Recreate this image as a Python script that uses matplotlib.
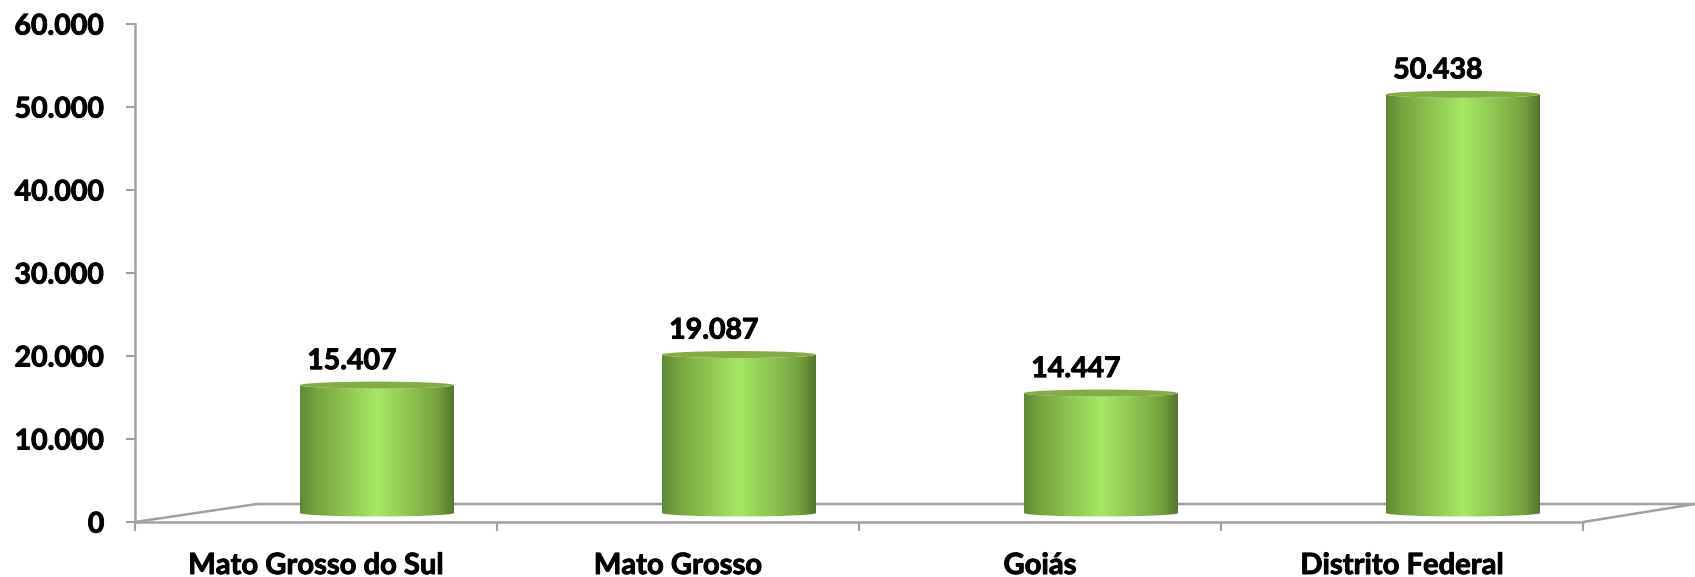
import numpy as np
import matplotlib
matplotlib.use("Agg")
import matplotlib.pyplot as plt
import matplotlib.patheffects as pe
from matplotlib.colors import LinearSegmentedColormap
from matplotlib.patches import Ellipse, PathPatch
from matplotlib.path import Path

categories = ["Mato Grosso do Sul", "Mato Grosso", "Goiás", "Distrito Federal"]
values = [15407, 19087, 14447, 50438]
y_ticks = [0, 10000, 20000, 30000, 40000, 50000, 60000]

W, H = 1695, 577
L, R, T, B = 135, 1583, 24, 522
plt.rcParams["font.family"] = ["Lato", "DejaVu Sans"]
plt.rcParams["font.weight"] = "bold"
heavy = [pe.withStroke(linewidth=0.7, foreground="black")]

fig = plt.figure(figsize=(W / 100, H / 100), dpi=100, facecolor="white")
ax = fig.add_axes([L / W, 1 - B / H, (R - L) / W, (B - T) / H])
ax.set_xlim(0, 4)
ax.set_ylim(0, 60000)
px = 4 / (R - L)
py = 60000 / (B - T)
for s in ["top", "right"]:
    ax.spines[s].set_visible(False)
for s in ["left", "bottom"]:
    ax.spines[s].set_color("#a0a0a0")
    ax.spines[s].set_linewidth(1.8)

fmt = lambda v: f"{v:,}".replace(",", ".")
ax.set_yticks(y_ticks)
ax.set_yticklabels([fmt(v) for v in y_ticks])
ax.set_xticks(range(5))
ax.set_xticklabels([""] * 5)
ax.tick_params(axis="y", length=6.5, width=1.5, color="#a0a0a0", pad=15.5, labelsize=20.5)
ax.tick_params(axis="x", length=6.5, width=1.5, color="#a0a0a0")
for t in ax.get_yticklabels():
    t.set_path_effects(heavy)
for i, c in enumerate(categories):
    ax.text(i + 0.5, -44 * py, c, ha="center", va="center", fontsize=21, color="black", path_effects=heavy)

# floor of the 3D box
floor_x = [0, 122 * px, (W - L) * px, 4]
floor_y = [0, 18 * py, 18 * py, 0]
ax.plot(floor_x, floor_y, color="#a0a0a0", lw=1.8, clip_on=False, zorder=1, solid_capstyle="butt")

cmap = LinearSegmentedColormap.from_list(
    "cyl",
    [(0, "#5f8a34"), (0.10, "#76a33f"), (0.28, "#8cc24f"), (0.5, "#a6e864"),
     (0.72, "#8dc350"), (0.90, "#74a03e"), (1, "#55752f")],
)
grad = np.linspace(0, 1, 256).reshape(1, -1)
dx = 61 * px          # 3D depth shift
base = 9 * py         # base of the cylinder above the front edge
half_w = 77 * px
ell = 3.5 * py        # ellipse half height

for i, v in enumerate(values):
    cx = i + 0.5 + dx
    x0, x1 = cx - half_w, cx + half_w
    top = v + base
    k = 0.5523
    verts = [(x0, top), (x0, base),
             (x0, base - k * ell), (cx - k * half_w, base - ell), (cx, base - ell),
             (cx + k * half_w, base - ell), (x1, base - k * ell), (x1, base),
             (x1, top),
             (x1, top - k * ell), (cx + k * half_w, top - ell), (cx, top - ell),
             (cx - k * half_w, top - ell), (x0, top - k * ell), (x0, top), (x0, top)]
    codes = [Path.MOVETO, Path.LINETO] + [Path.CURVE4] * 6 + [Path.LINETO] + [Path.CURVE4] * 6 + [Path.CLOSEPOLY]
    body = PathPatch(Path(verts, codes), fc="none", ec="none", transform=ax.transData)
    ax.add_patch(body)
    im = ax.imshow(grad, cmap=cmap, extent=[x0, x1, base - ell, top + ell], aspect="auto", zorder=3,
                   interpolation="bilinear")
    im.set_clip_path(body)
    ax.add_patch(Ellipse((cx, top), 2 * half_w, 2 * ell, fc="#83ad44", ec="none", zorder=4))
    ax.text(cx - 25 * px, v + base + 24 * py, fmt(v), ha="center", va="center", fontsize=20.5, color="black",
            zorder=5, path_effects=heavy)

ax.set_xlim(0, 4)
ax.set_ylim(0, 60000)
fig.savefig("out.png", dpi=100, facecolor="white")
